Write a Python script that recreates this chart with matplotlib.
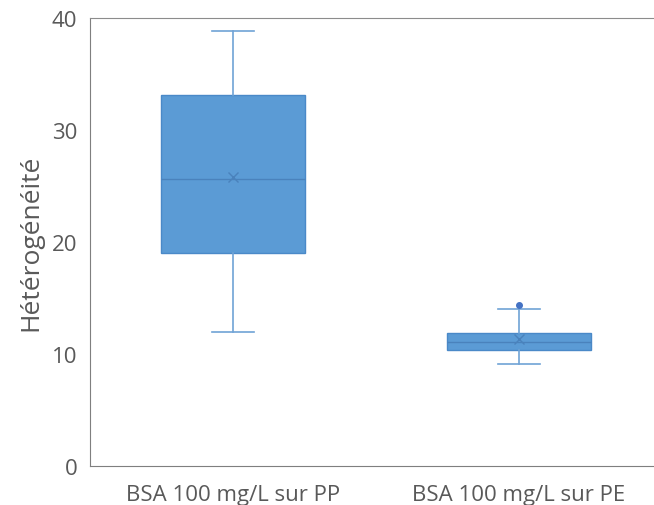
import matplotlib.pyplot as plt

# Données
categories = ['BSA 100 mg/L sur PP', 'BSA 100 mg/L sur PE']
whisker_bas = [12.0, 9.1]
q1 = [19.0, 10.4]
mediane = [25.6, 11.1]
moyenne = [25.8, 11.3]
q3 = [33.1, 11.9]
whisker_haut = [38.8, 14.0]
points_hors = [[], [14.4]]

plt.rcParams['font.family'] = ['Open Sans', 'DejaVu Sans']

stats = []
for i in range(len(categories)):
    stats.append({'label': categories[i], 'whislo': whisker_bas[i], 'q1': q1[i],
                  'med': mediane[i], 'mean': moyenne[i], 'q3': q3[i],
                  'whishi': whisker_haut[i], 'fliers': points_hors[i]})

fig = plt.figure(figsize=(6.54, 5.06), dpi=100)
ax = fig.add_axes([90 / 654, 39 / 506, 572 / 654, 448 / 506])

bleu = '#5B9BD5'
ax.bxp(stats, positions=[1, 2], widths=0.503, capwidths=0.15, patch_artist=True, showmeans=True,
       boxprops=dict(facecolor=bleu, edgecolor='#4A89C8', linewidth=1),
       medianprops=dict(color='#4A82BC', linewidth=1),
       whiskerprops=dict(color='#6FA3D6', linewidth=1.2),
       capprops=dict(color='#6FA3D6', linewidth=1.2),
       meanprops=dict(marker='x', markeredgecolor='#4A82BC', markersize=7, markeredgewidth=1),
       flierprops=dict(marker='o', markerfacecolor='#4472C4', markeredgecolor='#4472C4', markersize=4))

ax.set_xlim(0.5, 2.5)
ax.set_ylim(0, 40)
ax.set_yticks([0, 10, 20, 30, 40])
ax.set_ylabel('Hétérogénéité', fontsize=19, color='#595959', labelpad=6)
ax.tick_params(axis='both', length=0, labelsize=16, labelcolor='#595959')
ax.tick_params(axis='y', pad=9)
ax.tick_params(axis='x', pad=13)
ax.spines['left'].set_color('#7F7F7F')
ax.spines['bottom'].set_color('#7F7F7F')
ax.spines['top'].set_color('#8C8C8C')
ax.spines['right'].set_visible(False)

plt.savefig('out.png', dpi=100)
